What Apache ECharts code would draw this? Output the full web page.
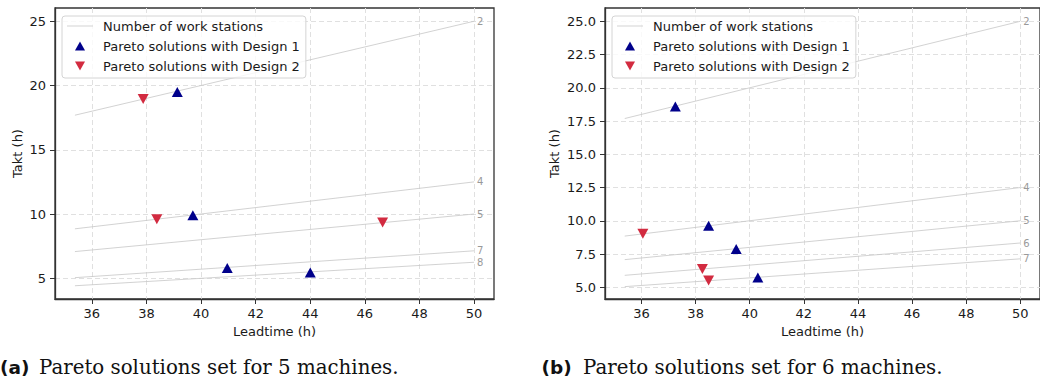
<!DOCTYPE html>
<html><head><meta charset="utf-8">
<script src="https://cdn.jsdelivr.net/npm/echarts@6/dist/echarts.min.js"></script>
<style>html,body{margin:0;padding:0;background:#fff}#c{width:1040px;height:380px}</style>
</head><body><div id="c"></div>
<script>
// ---- data ----
const leadRange = [35.38, 50];
const stationsA = [2, 4, 5, 7, 8];
const taktStartA = [17.69, 8.85, 7.08, 5.05, 4.42];
const taktEndA = [25, 12.5, 10, 7.14, 6.25];
const design1A = [[39.13, 19.5], [39.7, 9.9], [40.96, 5.8], [44.0, 5.45]];
const design2A = [[37.88, 18.95], [38.38, 9.6], [46.65, 9.35]];

const stationsB = [2, 4, 5, 6, 7];
const taktStartB = [17.69, 8.85, 7.08, 5.9, 5.05];
const taktEndB = [25, 12.5, 10, 8.33, 7.14];
const design1B = [[37.25, 18.6], [38.48, 9.62], [39.5, 7.88], [40.3, 5.74]];
const design2B = [[36.05, 9.02], [38.25, 6.38], [38.48, 5.52]];

const xTicks = [36, 38, 40, 42, 44, 46, 48, 50];
const yTicksA = [5, 10, 15, 20, 25];
const yTicksB = [5, 7.5, 10, 12.5, 15, 17.5, 20, 22.5, 25];
const xRange = [34.65, 50.73];
const yRangeA = [3.39, 26.03];
const yRangeB = [4.12, 26.0];

const names = ['Number of work stations', 'Pareto solutions with Design 1', 'Pareto solutions with Design 2'];
const captions = [['(a)', 'Pareto solutions set for 5 machines.'], ['(b)', 'Pareto solutions set for 6 machines.']];

// ---- styles ----
const FF = '"DejaVu Sans", sans-serif';
const TXT = '#1a1a1a';
const SPINE = '#333';
const GRIDC = '#e0e0e0';
const LINEC = '#c6c6c6';
const C1 = '#00008b';
const C2 = '#d22b40';
const UP = 'path://M5,0L10,9L0,9Z';
const DOWN = 'path://M0,0L10,0L5,9Z';
const LINEICON = 'path://M0,0L30,0L30,0.9L0,0.9Z';

function makeX(gi) {
  return {
    type: 'value', gridIndex: gi, min: xRange[0], max: xRange[1],
    name: 'Leadtime (h)', nameLocation: 'middle', nameGap: 26,
    nameTextStyle: { fontFamily: FF, fontSize: 13, color: TXT },
    axisLine: { show: true, onZero: false, lineStyle: { color: SPINE, width: 1.3 } },
    axisTick: { show: true, length: 5, customValues: xTicks, lineStyle: { color: SPINE, width: 1 } },
    axisLabel: { customValues: xTicks, margin: 8, fontFamily: FF, fontSize: 13, color: TXT },
    splitLine: { show: true, customValues: xTicks, lineStyle: { color: GRIDC, width: 1, type: [5, 3] } }
  };
}
function makeY(gi, range, ticks, fmt, gap) {
  return {
    type: 'value', gridIndex: gi, min: range[0], max: range[1],
    name: 'Takt (h)', nameLocation: 'middle', nameGap: gap,
    nameTextStyle: { fontFamily: FF, fontSize: 13, color: TXT },
    axisLine: { show: true, onZero: false, lineStyle: { color: SPINE, width: 1.3 } },
    axisTick: { show: true, length: 5, customValues: ticks, lineStyle: { color: SPINE, width: 1 } },
    axisLabel: { customValues: ticks, margin: 9, fontFamily: FF, fontSize: 13, color: TXT, formatter: fmt },
    splitLine: { show: true, customValues: ticks, lineStyle: { color: GRIDC, width: 1, type: [5, 3] } }
  };
}
function stationLines(gi, st, s0, s1) {
  return st.map((n, i) => ({
    type: 'line', name: names[0], xAxisIndex: gi, yAxisIndex: gi,
    symbol: 'none', silent: true, z: 1,
    lineStyle: { color: LINEC, width: 0.8 }, itemStyle: { color: LINEC },
    endLabel: { show: true, formatter: String(n), distance: 3, color: '#999', fontSize: 10, fontFamily: FF },
    data: [[leadRange[0], s0[i]], [leadRange[1], s1[i]]]
  }));
}
function scatters(gi, d1, d2) {
  return [
    { type: 'scatter', name: names[1], xAxisIndex: gi, yAxisIndex: gi, symbol: UP,
      symbolSize: [11, 10], itemStyle: { color: C1, opacity: 1 }, z: 3, data: d1 },
    { type: 'scatter', name: names[2], xAxisIndex: gi, yAxisIndex: gi, symbol: DOWN,
      symbolSize: [11, 10], itemStyle: { color: C2, opacity: 1 }, z: 3, data: d2 }
  ];
}
function makeLegend(left) {
  return {
    orient: 'vertical', left: left, top: 16, itemWidth: 26, itemHeight: 9, itemGap: 0,
    padding: [0, 6, 2, 5], backgroundColor: 'rgba(255,255,255,0.8)',
    borderColor: '#d4d4d4', borderWidth: 1, borderRadius: 3, selectedMode: false,
    textStyle: { fontFamily: FF, fontSize: 13, color: TXT, lineHeight: 20, padding: [0, 0, 0, 5] },
    data: [
      { name: names[0], icon: LINEICON, itemStyle: { color: LINEC } },
      { name: names[1], icon: UP, itemStyle: { color: C1 } },
      { name: names[2], icon: DOWN, itemStyle: { color: C2 } }
    ]
  };
}
function caption(xb, xs, c) {
  return [
    { type: 'text', x: xb, y: 367, style: { text: c[0], font: 'bold 18.5px "DejaVu Sans"', fill: '#111', verticalAlign: 'middle' } },
    { type: 'text', x: xs, y: 367, style: { text: c[1], font: '19.8px "DejaVu Serif"', fill: '#111', verticalAlign: 'middle' } }
  ];
}

const chart = echarts.init(document.getElementById('c'), null, { renderer: 'svg' });
chart.setOption({
  animation: false,
  backgroundColor: '#fff',
  grid: [
    { left: 55, top: 8, width: 439, height: 291, show: true, borderColor: SPINE, borderWidth: 1.3, backgroundColor: 'transparent' },
    { left: 605, top: 8, width: 439.5, height: 291, show: true, borderColor: SPINE, borderWidth: 1.3, backgroundColor: 'transparent' }
  ],
  xAxis: [makeX(0), makeX(1)],
  yAxis: [
    makeY(0, yRangeA, yTicksA, v => String(v), 31),
    makeY(1, yRangeB, yTicksB, v => v.toFixed(1), 44)
  ],
  legend: [makeLegend(62), makeLegend(612)],
  series: [].concat(
    stationLines(0, stationsA, taktStartA, taktEndA),
    scatters(0, design1A, design2A),
    stationLines(1, stationsB, taktStartB, taktEndB),
    scatters(1, design1B, design2B)
  ),
  graphic: [].concat(caption(0, 39, captions[0]), caption(541.5, 583, captions[1]))
});
</script></body></html>
